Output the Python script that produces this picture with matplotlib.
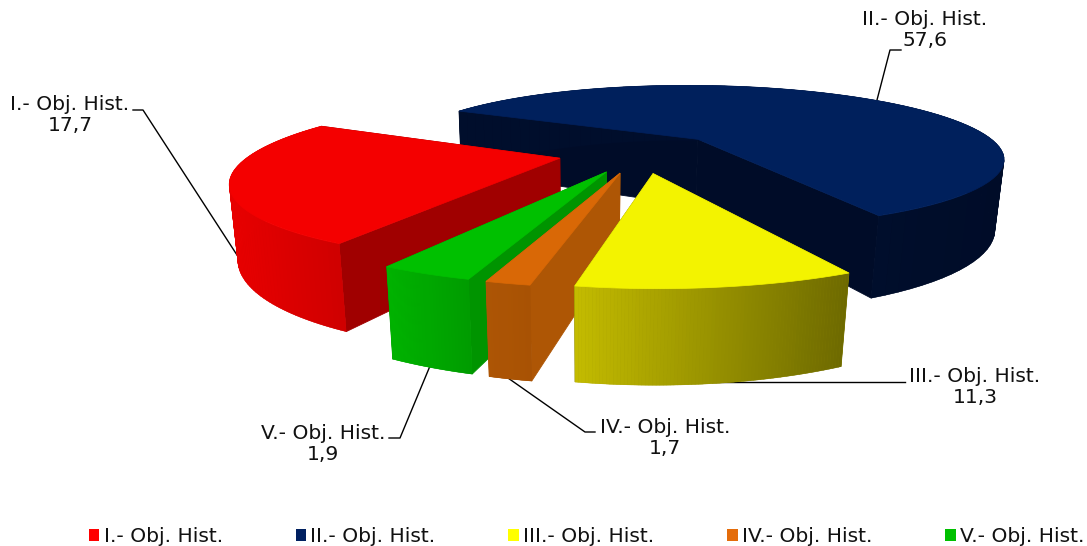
import numpy as np
import matplotlib
matplotlib.use('Agg')
import matplotlib.pyplot as plt
from matplotlib.patches import Patch, Polygon

plt.rcParams['font.family'] = 'DejaVu Sans'
sz = 14.6

names = ['I.- Obj. Hist.', 'II.- Obj. Hist.', 'III.- Obj. Hist.', 'IV.- Obj. Hist.', 'V.- Obj. Hist.']
values = [17.7, 57.6, 11.3, 1.7, 1.9]
value_labels = ['17,7', '57,6', '11,3', '1,7', '1,9']
# degrees per unit the picture gives each slice, it is not the same for all of them
deg_per_unit = [5.03, 3.76, 3.28, 3.53, 6.7]
legend_cols = ['#FF0000', '#002060', '#FFFF00', '#E46C0A', '#00C000']

# colours of each slice: top, cut face, side from left to right
top_cols = ['#F40000', '#00205C', '#F3F300', '#D96806', '#00C000']
cut_cols = ['#A00000', '#000C28', '#7A7600', '#AE5605', '#009400']
side_l = ['#E80000', '#000E2C', '#C4BC00', '#AE5605', '#00B400']
side_r = ['#D00000', '#000C28', '#6E6A00', '#A85204', '#009C00']

# camera
cx, cy = 641, 152.5
el = np.radians(13.8)
D = 3.88
f = 1193
h = 0.238
zp = 0.36      # how fast the bottom shrinks
lat = 0.016    # bottom drifts a bit to the left
expl = 0.27
first_ang = -62.0    # where slice II starts, clockwise from the back
seq = [1, 2, 3, 4, 0]   # going round clockwise
draw_order = [1, 0, 4, 3, 2]


def project(u, v, z):
    y = v*np.sin(el) - z*np.cos(el)
    d = D - v*np.cos(el) - z*zp
    return cx + f*(u + z*lat)/d, cy + f*y/d


def mix(a, b, s):
    a = np.array(matplotlib.colors.to_rgb(a))
    b = np.array(matplotlib.colors.to_rgb(b))
    return tuple(a + (b - a)*s)


fig = plt.figure(figsize=(10.87, 5.46), dpi=100)
ax = fig.add_axes([0, 0, 1, 1])
ax.set_xlim(0, 1087)
ax.set_ylim(546, 0)
ax.axis('off')

sweeps = np.array(values)*np.array(deg_per_unit)
sweeps = sweeps*360/sweeps.sum()
spans = {}
t = first_ang
for i in seq:
    spans[i] = (t, t + sweeps[i])
    t += sweeps[i]


def quad(p, q, col, z, lw=0.6):
    pts = [project(*p, 0), project(*q, 0), project(*q, -h), project(*p, -h)]
    ax.add_patch(Polygon(pts, closed=True, fc=col, ec=col, lw=lw, zorder=z))


for n, i in enumerate(draw_order):
    a0, a1 = spans[i]
    mid = np.radians((a0 + a1)/2)
    ou, ov = expl*np.sin(mid), -expl*np.cos(mid)
    th = np.radians(np.linspace(a0, a1, 80))
    us = ou + np.sin(th)
    vs = ov - np.cos(th)
    z = 10 + n*10
    # cut faces
    quad((ou, ov), (us[0], vs[0]), cut_cols[i], z)
    quad((ou, ov), (us[-1], vs[-1]), cut_cols[i], z + 1)
    # rim, only the part facing us
    sx = project(us, vs, 0)[0]
    front = vs > ov - 0.25
    lo, hi = sx[front].min(), sx[front].max()
    bx, by = project(us, vs, -h)
    tx0, ty0 = project(us, vs, 0)
    ax.add_patch(Polygon(np.c_[np.r_[tx0, bx[::-1]], np.r_[ty0, by[::-1]]], closed=True,
                         fc=mix(side_l[i], side_r[i], 0.5), ec='none', zorder=z + 2))
    for k in np.argsort(vs[:-1]):
        s = (sx[k] - lo)/max(hi - lo, 1)
        quad((us[k], vs[k]), (us[k + 1], vs[k + 1]), mix(side_l[i], side_r[i], np.clip(s, 0, 1)), z + 2, lw=0.3)
    # top
    tx, ty = project(np.r_[ou, us], np.r_[ov, vs], 0)
    ax.add_patch(Polygon(np.c_[tx, ty], closed=True, fc=top_cols[i], ec=top_cols[i], lw=0.5, zorder=z + 3))

# callouts
leaders = [[(237, 255), (143, 110), (133, 110)],
           [(877, 100), (890, 50), (901, 50)],
           [(712, 382), (895, 382), (905, 382)],
           [(508, 378), (585, 432), (595, 432)],
           [(430, 366), (400, 438), (389, 438)]]
label_xy = [(70, 115), (925, 30), (975, 387), (665, 438), (323, 444)]
for i in range(5):
    xs, ys = zip(*leaders[i])
    ax.plot(xs, ys, color='k', lw=1, zorder=5)
    ax.text(label_xy[i][0], label_xy[i][1], names[i] + '\n' + value_labels[i], ha='center', va='center',
            fontsize=sz, color='#111111', linespacing=1.12, zorder=100)

handles = [Patch(fc=c, ec='none') for c in legend_cols]
ax.legend(handles, names, loc='center', bbox_to_anchor=(586.5/1087, 1 - 537/546), ncol=5, frameon=False,
          fontsize=sz, handlelength=0.52, handleheight=0.52, handletextpad=0.2, columnspacing=3.6,
          labelcolor='#111111', borderpad=0, borderaxespad=0)

plt.savefig('out.png', dpi=100)
